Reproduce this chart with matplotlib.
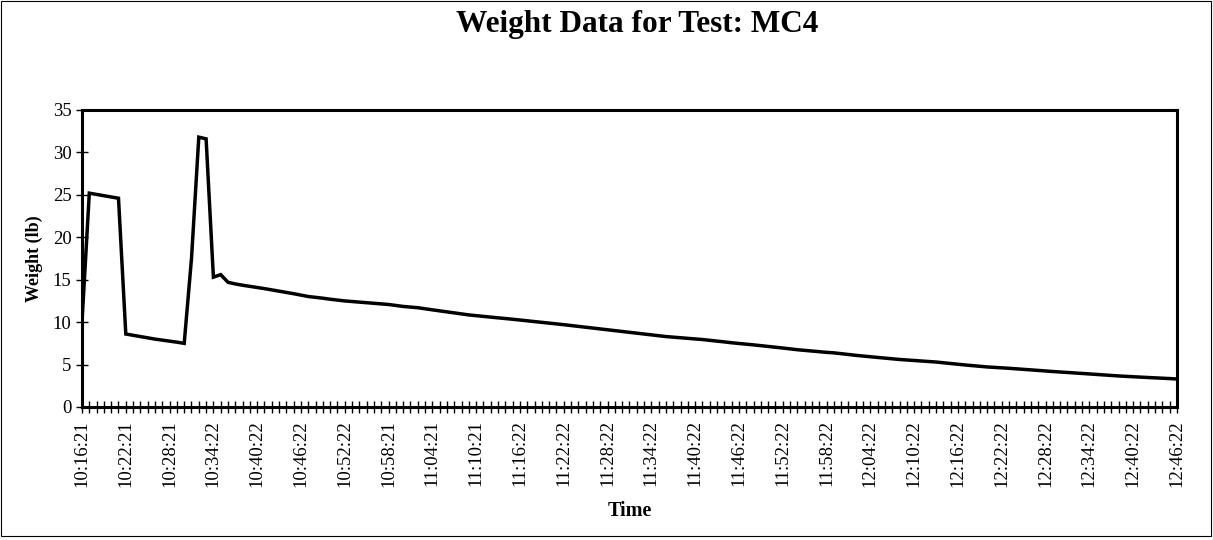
import matplotlib
matplotlib.use("Agg")
import matplotlib.pyplot as plt
from matplotlib.patches import Rectangle

# Weight readings, one per minute from 10:16:21 to 12:46:22
weight_lb = [
    10.0, 25.2, 25.05, 24.9, 24.75, 24.6, 8.6, 8.45, 8.3, 8.15,
    8.0, 7.88, 7.76, 7.64, 7.5, 17.5, 31.8, 31.6, 15.3, 15.6,
    14.7, 14.50, 14.35, 14.22, 14.10, 13.95, 13.80, 13.65, 13.50, 13.35,
    13.18, 13.02, 12.92, 12.82, 12.70, 12.60, 12.50, 12.43, 12.36, 12.30,
    12.22, 12.15, 12.08, 11.96, 11.85, 11.77, 11.70, 11.57, 11.45, 11.33,
    11.21, 11.09, 10.97, 10.85, 10.76, 10.68, 10.59, 10.51, 10.42, 10.34,
    10.25, 10.16, 10.07, 9.98, 9.89, 9.80, 9.70, 9.60, 9.50, 9.40,
    9.30, 9.20, 9.10, 9.00, 8.90, 8.80, 8.70, 8.60, 8.50, 8.40,
    8.30, 8.23, 8.16, 8.09, 8.02, 7.95, 7.86, 7.76, 7.67, 7.57,
    7.49, 7.40, 7.32, 7.23, 7.15, 7.05, 6.95, 6.85, 6.75, 6.67,
    6.58, 6.50, 6.44, 6.38, 6.28, 6.19, 6.09, 6.00, 5.92, 5.84,
    5.76, 5.68, 5.60, 5.54, 5.48, 5.42, 5.36, 5.30, 5.21, 5.13,
    5.04, 4.95, 4.87, 4.78, 4.72, 4.67, 4.61, 4.56, 4.50, 4.44,
    4.37, 4.31, 4.24, 4.18, 4.13, 4.07, 4.01, 3.95, 3.89, 3.82,
    3.76, 3.70, 3.66, 3.61, 3.57, 3.52, 3.48, 3.44, 3.39, 3.35,
    3.30,
]

# Time stamps shown on the category axis (every sixth reading)
time_labels = [
    "10:16:21", "10:22:21", "10:28:21", "10:34:22", "10:40:22", "10:46:22",
    "10:52:22", "10:58:21", "11:04:21", "11:10:21", "11:16:22", "11:22:22",
    "11:28:22", "11:34:22", "11:40:22", "11:46:22", "11:52:22", "11:58:22",
    "12:04:22", "12:10:22", "12:16:22", "12:22:22", "12:28:22", "12:34:22",
    "12:40:22", "12:46:22",
]
label_step = 6

y_ticks = [0, 5, 10, 15, 20, 25, 30, 35]

serif = ["Liberation Serif", "DejaVu Serif"]
plt.rcParams["font.family"] = serif

fig = plt.figure(figsize=(12.13, 5.40), dpi=100)
fig.patch.set_facecolor("white")
# thin frame around the whole chart area
fig.patches.append(Rectangle((0.001, 0.008), 0.997, 0.99, transform=fig.transFigure,
                             fill=False, edgecolor="black", linewidth=0.8))

ax = fig.add_axes([0.0676, 0.2463, 0.9027, 0.5500])

idx = list(range(len(weight_lb)))
ax.plot(idx, weight_lb, color="black", linewidth=2.5, solid_joinstyle="miter")

ax.set_xlim(0, len(weight_lb) - 1)
ax.set_ylim(0, 35)

ax.set_yticks(y_ticks)
ax.set_yticklabels([str(v) for v in y_ticks], fontsize=13.5)

ax.set_xticks(idx)
ax.set_xticklabels([time_labels[i // label_step] if i % label_step == 0 else ""
                    for i in idx], rotation=90, fontsize=13.5)

ax.tick_params(axis="both", direction="inout", length=9, width=1.0, color="black")
ax.tick_params(axis="x", pad=5)
ax.tick_params(axis="y", pad=3)

for sp in ax.spines.values():
    sp.set_linewidth(2.2)
    sp.set_color("black")

fig.text(0.525, 0.955, "Weight Data for Test: MC4", fontsize=22.5,
         fontweight="bold", ha="center", va="center")

ax.set_xlabel("Time", fontsize=14.5, fontweight="bold", labelpad=10)
ax.set_ylabel("Weight (lb)", fontsize=13, fontweight="bold", labelpad=7)

fig.savefig("out.png", dpi=100, facecolor="white")
